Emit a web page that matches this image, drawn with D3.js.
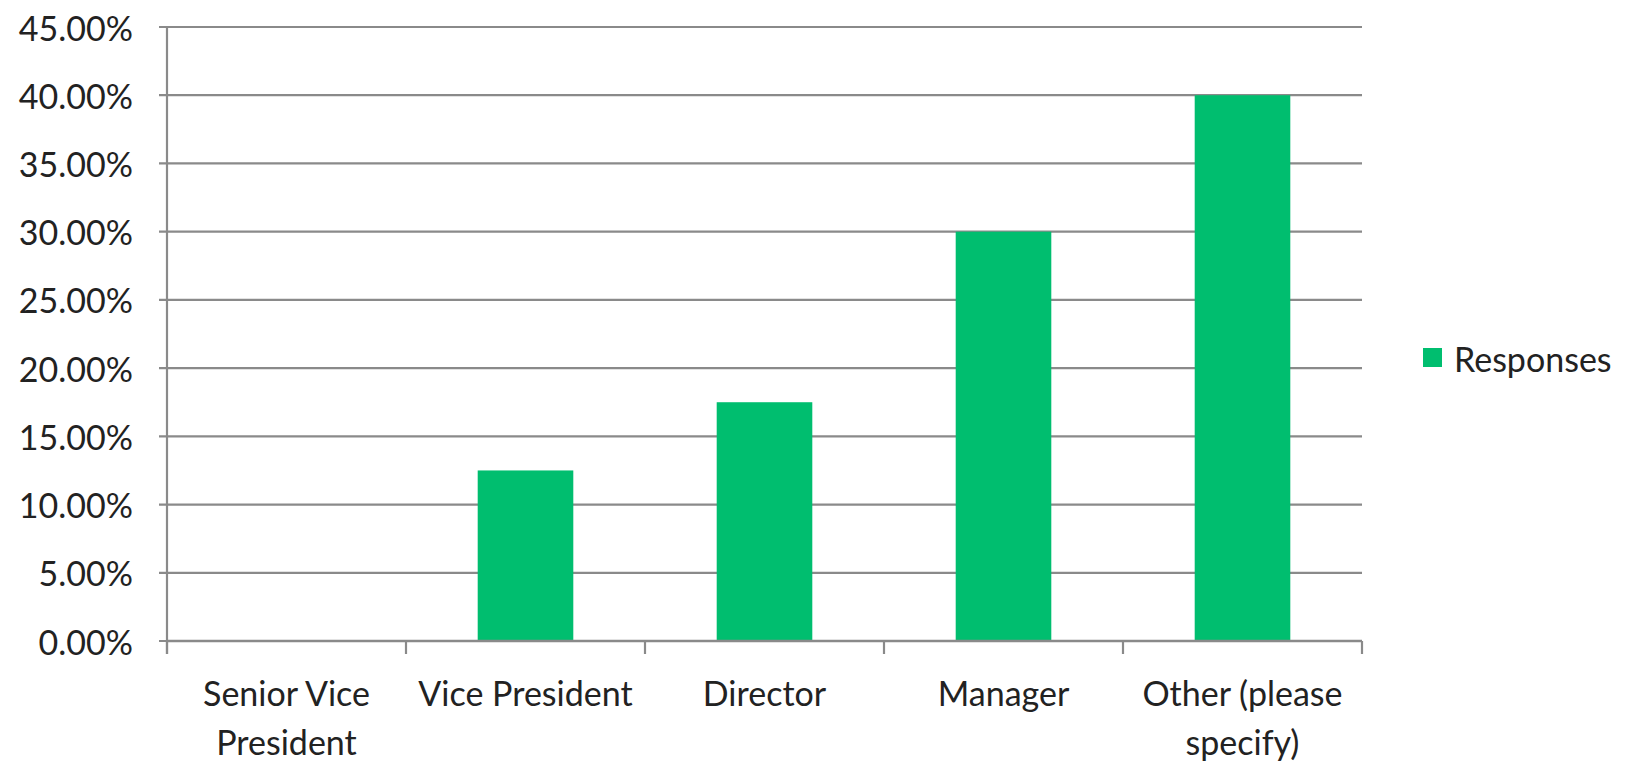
<!DOCTYPE html>
<html>
<head>
<meta charset="utf-8">
<script src="https://cdn.jsdelivr.net/npm/d3@7"></script>
<style>
  html, body { margin: 0; padding: 0; background: #fff; }
  svg text { font-family: Lato, "Open Sans", sans-serif; fill: #222; }
</style>
</head>
<body>
<svg id="chart" width="1636" height="762"></svg>
<script>
const categories = ["Senior Vice President", "Vice President", "Director", "Manager", "Other (please specify)"];
const responses = [0, 0.125, 0.175, 0.30, 0.40];
const yTicks = [0, 0.05, 0.10, 0.15, 0.20, 0.25, 0.30, 0.35, 0.40, 0.45];
const seriesName = "Responses";

const svg = d3.select("#chart");
const margin = { left: 167, right: 1362, top: 27, bottom: 641 };
const green = "#00BE6F";
const gridColor = "#8a8a8a";
const fontSize = 34;

const x = d3.scaleBand().domain(categories).range([margin.left, margin.right])
  .paddingInner(0.6).paddingOuter(0.3);
const y = d3.scaleLinear().domain([0, 0.45]).range([margin.bottom, margin.top]);

// gridlines
svg.append("g").selectAll("line").data(yTicks).join("line")
  .attr("x1", margin.left - 8).attr("x2", margin.right)
  .attr("y1", d => y(d)).attr("y2", d => y(d))
  .attr("stroke", gridColor).attr("stroke-width", 2.2);

// y labels
svg.append("g").selectAll("text").data(yTicks).join("text")
  .attr("x", 133).attr("y", d => y(d))
  .attr("text-anchor", "end").attr("dominant-baseline", "central")
  .attr("font-size", fontSize)
  .text(d => d3.format(".2%")(d));

// bars
svg.append("g").selectAll("rect").data(categories).join("rect")
  .attr("x", d => x(d)).attr("width", x.bandwidth())
  .attr("y", (d, i) => y(responses[i]))
  .attr("height", (d, i) => y(0) - y(responses[i]))
  .attr("fill", green);

// axes lines
svg.append("line").attr("x1", margin.left).attr("x2", margin.left)
  .attr("y1", margin.top).attr("y2", margin.bottom + 13)
  .attr("stroke", gridColor).attr("stroke-width", 2.2);
svg.append("line").attr("x1", margin.left).attr("x2", margin.right)
  .attr("y1", margin.bottom).attr("y2", margin.bottom)
  .attr("stroke", gridColor).attr("stroke-width", 2.6);

// category boundary ticks
const step = x.step();
const boundaries = d3.range(categories.length + 1).map(i => margin.left + i * step);
svg.append("g").selectAll("line").data(boundaries).join("line")
  .attr("x1", d => d).attr("x2", d => d)
  .attr("y1", margin.bottom).attr("y2", margin.bottom + 13)
  .attr("stroke", gridColor).attr("stroke-width", 2.2);

// category labels with wrapping
const labelG = svg.append("g");
categories.forEach(c => {
  const cx = x(c) + x.bandwidth() / 2;
  const t = labelG.append("text").attr("x", cx).attr("y", 706)
    .attr("text-anchor", "middle").attr("font-size", fontSize);
  const words = c.split(" ");
  let lines = [], cur = [];
  words.forEach(w => {
    const test = cur.concat([w]).join(" ");
    t.text(test);
    if (t.node().getComputedTextLength() > step - 8 && cur.length) {
      lines.push(cur.join(" "));
      cur = [w];
    } else cur.push(w);
  });
  lines.push(cur.join(" "));
  t.text(null);
  lines.forEach((ln, i) => {
    t.append("tspan").attr("x", cx).attr("dy", i === 0 ? 0 : 49).text(ln);
  });
});

// legend
const lg = svg.append("g");
lg.append("rect").attr("x", 1423).attr("y", 348).attr("width", 19).attr("height", 19).attr("fill", green);
lg.append("text").attr("x", 1454).attr("y", 358).attr("dominant-baseline", "central")
  .attr("font-size", fontSize).text(seriesName);
</script>
</body>
</html>
